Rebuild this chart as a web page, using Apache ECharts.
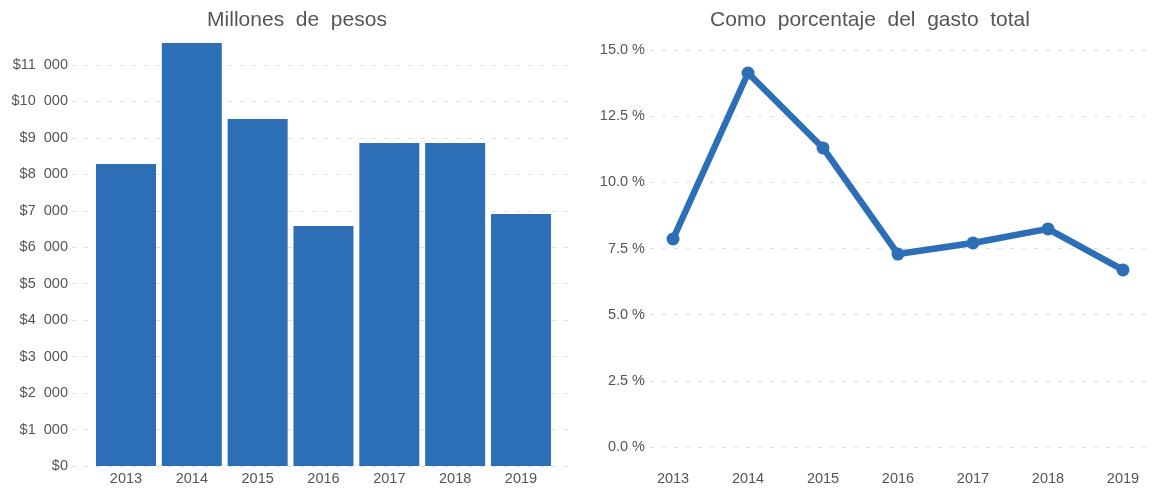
<!DOCTYPE html>
<html>
<head>
<meta charset="utf-8">
<script src="https://cdn.jsdelivr.net/npm/echarts@6/dist/echarts.min.js"></script>
<style>
  html, body { margin: 0; padding: 0; background: #fff; }
  #chart { width: 1160px; height: 490px; }
</style>
</head>
<body>
<div id="chart"></div>
<script>
// gasto: millones de pesos y % del gasto total, 2013-2019
const years = [2013, 2014, 2015, 2016, 2017, 2018, 2019];
const millones = [8285, 11605, 9520, 6585, 8860, 8860, 6915];
const porcentaje = [7.86, 14.13, 11.30, 7.29, 7.71, 8.24, 6.69];

const FONT = "'Liberation Sans', Arial, sans-serif";
const BLUE = "#2D6FB7";
const TXT = "#555555";

const chart = echarts.init(document.getElementById("chart"));

const gridLine = {
  show: true,
  lineStyle: { color: "#e0e0e0", width: 1, type: [4, 8] }
};

function yearAxis(gridIndex, min, max, margin) {
  return {
    type: "value",
    gridIndex,
    min,
    max,
    splitNumber: 8,
    axisLine: { show: false },
    axisTick: { show: false },
    splitLine: { show: false },
    axisLabel: {
      margin,
      color: TXT,
      fontSize: 14.5,
      fontFamily: FONT,
      showMinLabel: false,
      showMaxLabel: false,
      formatter: (v) => (Number.isInteger(v) ? String(v) : "")
    }
  };
}

chart.setOption({
  animation: false,
  backgroundColor: "#fff",
  title: [
    {
      text: "Millones  de  pesos",
      left: 292,
      textAlign: "center",
      top: 5,
      textStyle: { color: TXT, fontSize: 21, fontWeight: "normal", fontFamily: FONT }
    },
    {
      text: "Como  porcentaje  del  gasto  total",
      left: 865,
      textAlign: "center",
      top: 5,
      textStyle: { color: TXT, fontSize: 21, fontWeight: "normal", fontFamily: FONT }
    }
  ],
  grid: [
    { left: 72, width: 500, top: 65, bottom: 24 },
    { left: 650, width: 496, top: 50, bottom: 43 }
  ],
  xAxis: [
    yearAxis(0, 2012.18, 2019.775, 5),
    yearAxis(1, 2012.693, 2019.307, 24)
  ],
  yAxis: [
    {
      type: "value",
      gridIndex: 0,
      min: 0,
      max: 11000,
      interval: 1000,
      axisLine: { show: false },
      axisTick: { show: false },
      splitLine: gridLine,
      axisLabel: {
        margin: 4,
        color: TXT,
        fontSize: 14.5,
        fontFamily: FONT,
        formatter: (v) => (v === 0 ? "$0" : "$" + v / 1000 + "  000")
      }
    },
    {
      type: "value",
      gridIndex: 1,
      min: 0,
      max: 15,
      interval: 2.5,
      axisLine: { show: false },
      axisTick: { show: false },
      splitLine: gridLine,
      axisLabel: {
        margin: 5,
        color: TXT,
        fontSize: 14.5,
        fontFamily: FONT,
        formatter: (v) => v.toFixed(1) + " %"
      }
    }
  ],
  series: [
    {
      type: "bar",
      xAxisIndex: 0,
      yAxisIndex: 0,
      clip: false,
      barWidth: 60,
      itemStyle: { color: BLUE },
      data: years.map((y, i) => [y, millones[i]])
    },
    {
      type: "line",
      xAxisIndex: 1,
      yAxisIndex: 1,
      symbol: "circle",
      symbolSize: 13,
      lineStyle: { color: BLUE, width: 6.5 },
      itemStyle: { color: BLUE },
      data: years.map((y, i) => [y, porcentaje[i]])
    }
  ]
});
</script>
</body>
</html>
